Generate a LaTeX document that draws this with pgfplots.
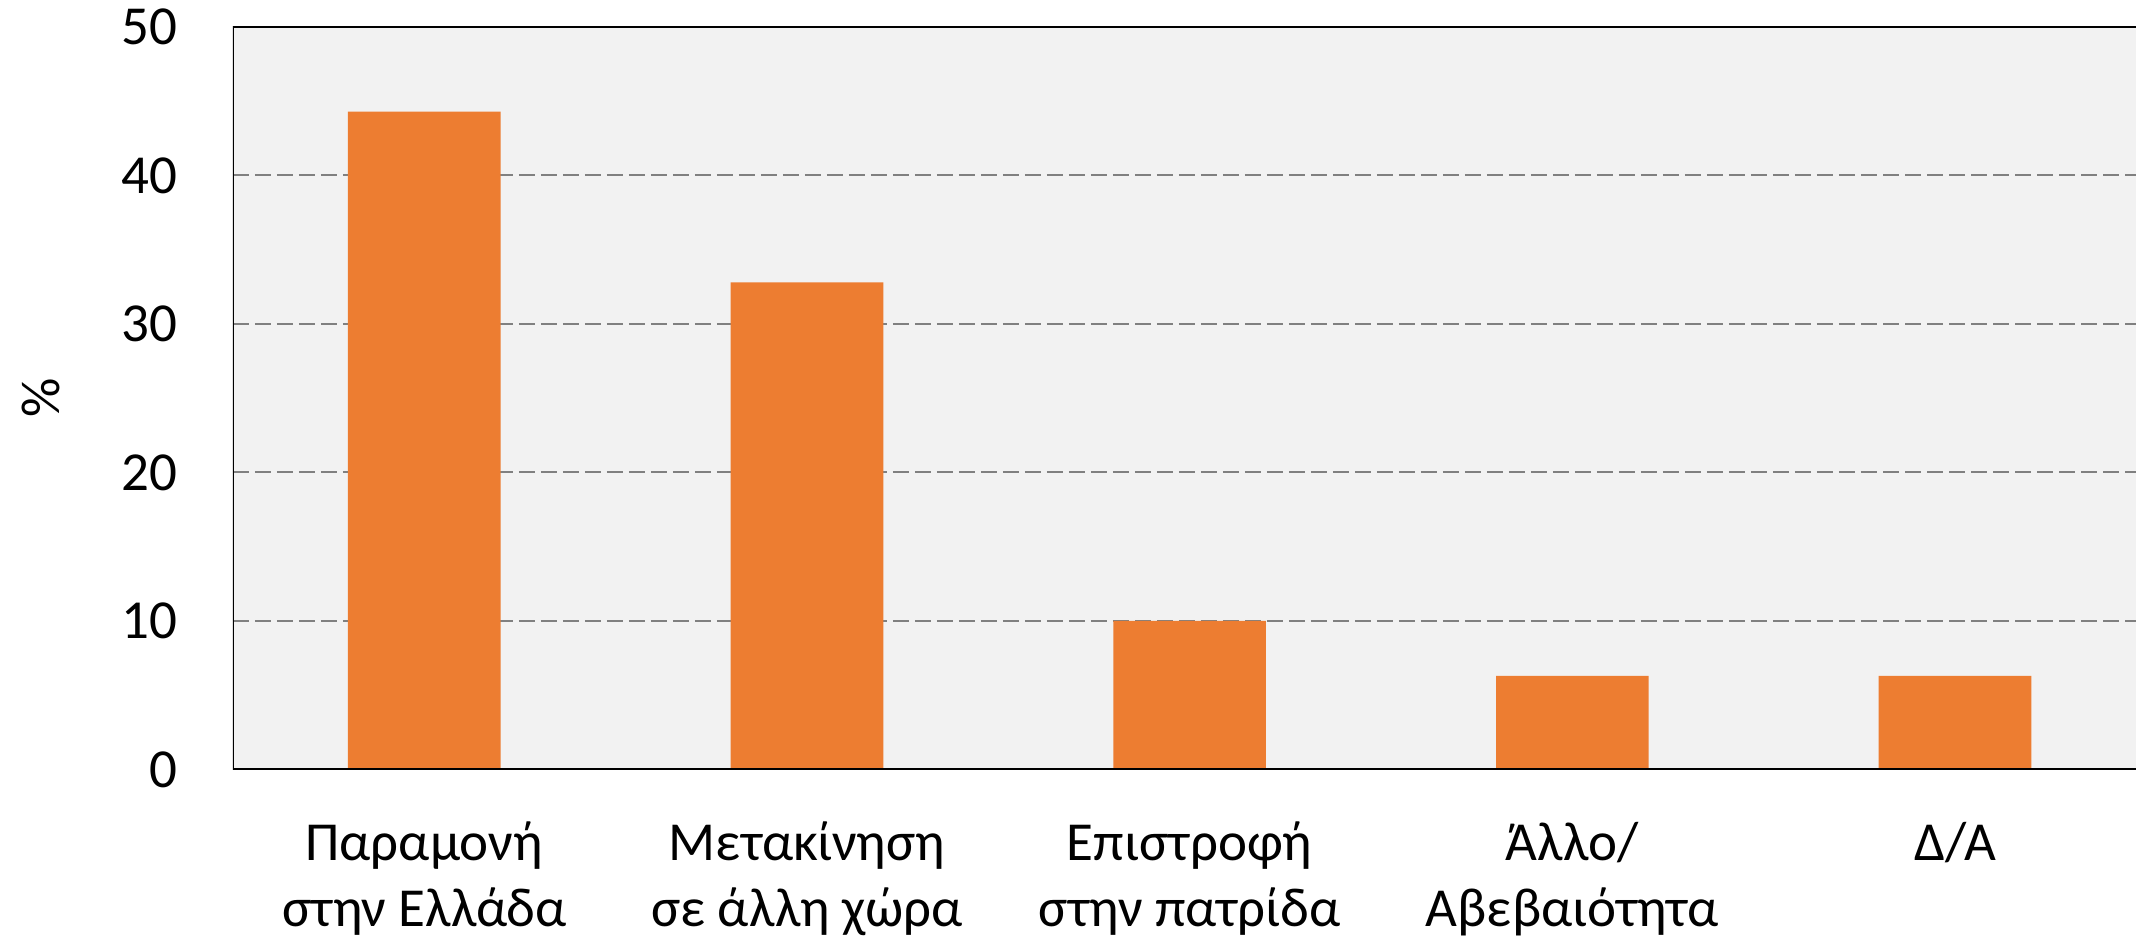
\documentclass[border=0pt]{standalone}
\usepackage{pgfplots}
\pgfplotsset{compat=1.18}
\usepackage{fontspec}
\setmainfont{Carlito}
\definecolor{barc}{HTML}{ED7D31}
\definecolor{bgc}{HTML}{F2F2F2}
\definecolor{gridc}{HTML}{808080}
\begin{document}
\begin{tikzpicture}
\begin{axis}[
  scale only axis,
  width=692pt, height=270pt,
  xmin=-0.5, xmax=4.473,
  ymin=0, ymax=50,
  ytick={0,10,20,30,40,50},
  xtick={0,1,2,3,4},
  xticklabels={{Παραμονή\\στην Ελλάδα},{Μετακίνηση\\σε άλλη χώρα},{Επιστροφή\\στην πατρίδα},{Άλλο/\\Αβεβαιότητα},{Δ/Α}},
  major tick length=0pt,
  axis line style={draw=none},
  axis background/.style={fill=bgc},
  ymajorgrids,
  major grid style={gridc, line width=0.7pt, dash pattern=on 5.8pt off 2.2pt},
  /pgf/number format/assume math mode=true,
  tick label style={font=\fontsize{20}{24}\selectfont},
  yticklabel style={anchor=east, inner sep=0pt, xshift=-20pt},
  xticklabel style={anchor=north, inner sep=0pt, yshift=-19pt, align=center},
  every axis y label/.style={at={(rel axis cs:0,0.5)}, xshift=-69.7pt, rotate=90, anchor=center, font=\fontsize{20}{24}\selectfont},
  ylabel={\%},
  clip=true,
]
\addplot[ybar, bar width=55.5pt, fill=barc, draw=none] coordinates {(0,44.3) (1,32.8) (2,10.0) (3,6.3) (4,6.3)};
\draw[black, line width=1pt] (rel axis cs:1,1) -- (rel axis cs:0,1) -- (rel axis cs:0,0) -- (rel axis cs:1,0);
\coordinate (SW) at (rel axis cs:0,0);
\coordinate (NE) at (rel axis cs:1,1);
\end{axis}
\pgfresetboundingbox
\path[use as bounding box] ([xshift=-84.7pt,yshift=-60.9pt]SW) rectangle ([yshift=9.8pt]NE);
\end{tikzpicture}
\end{document}
